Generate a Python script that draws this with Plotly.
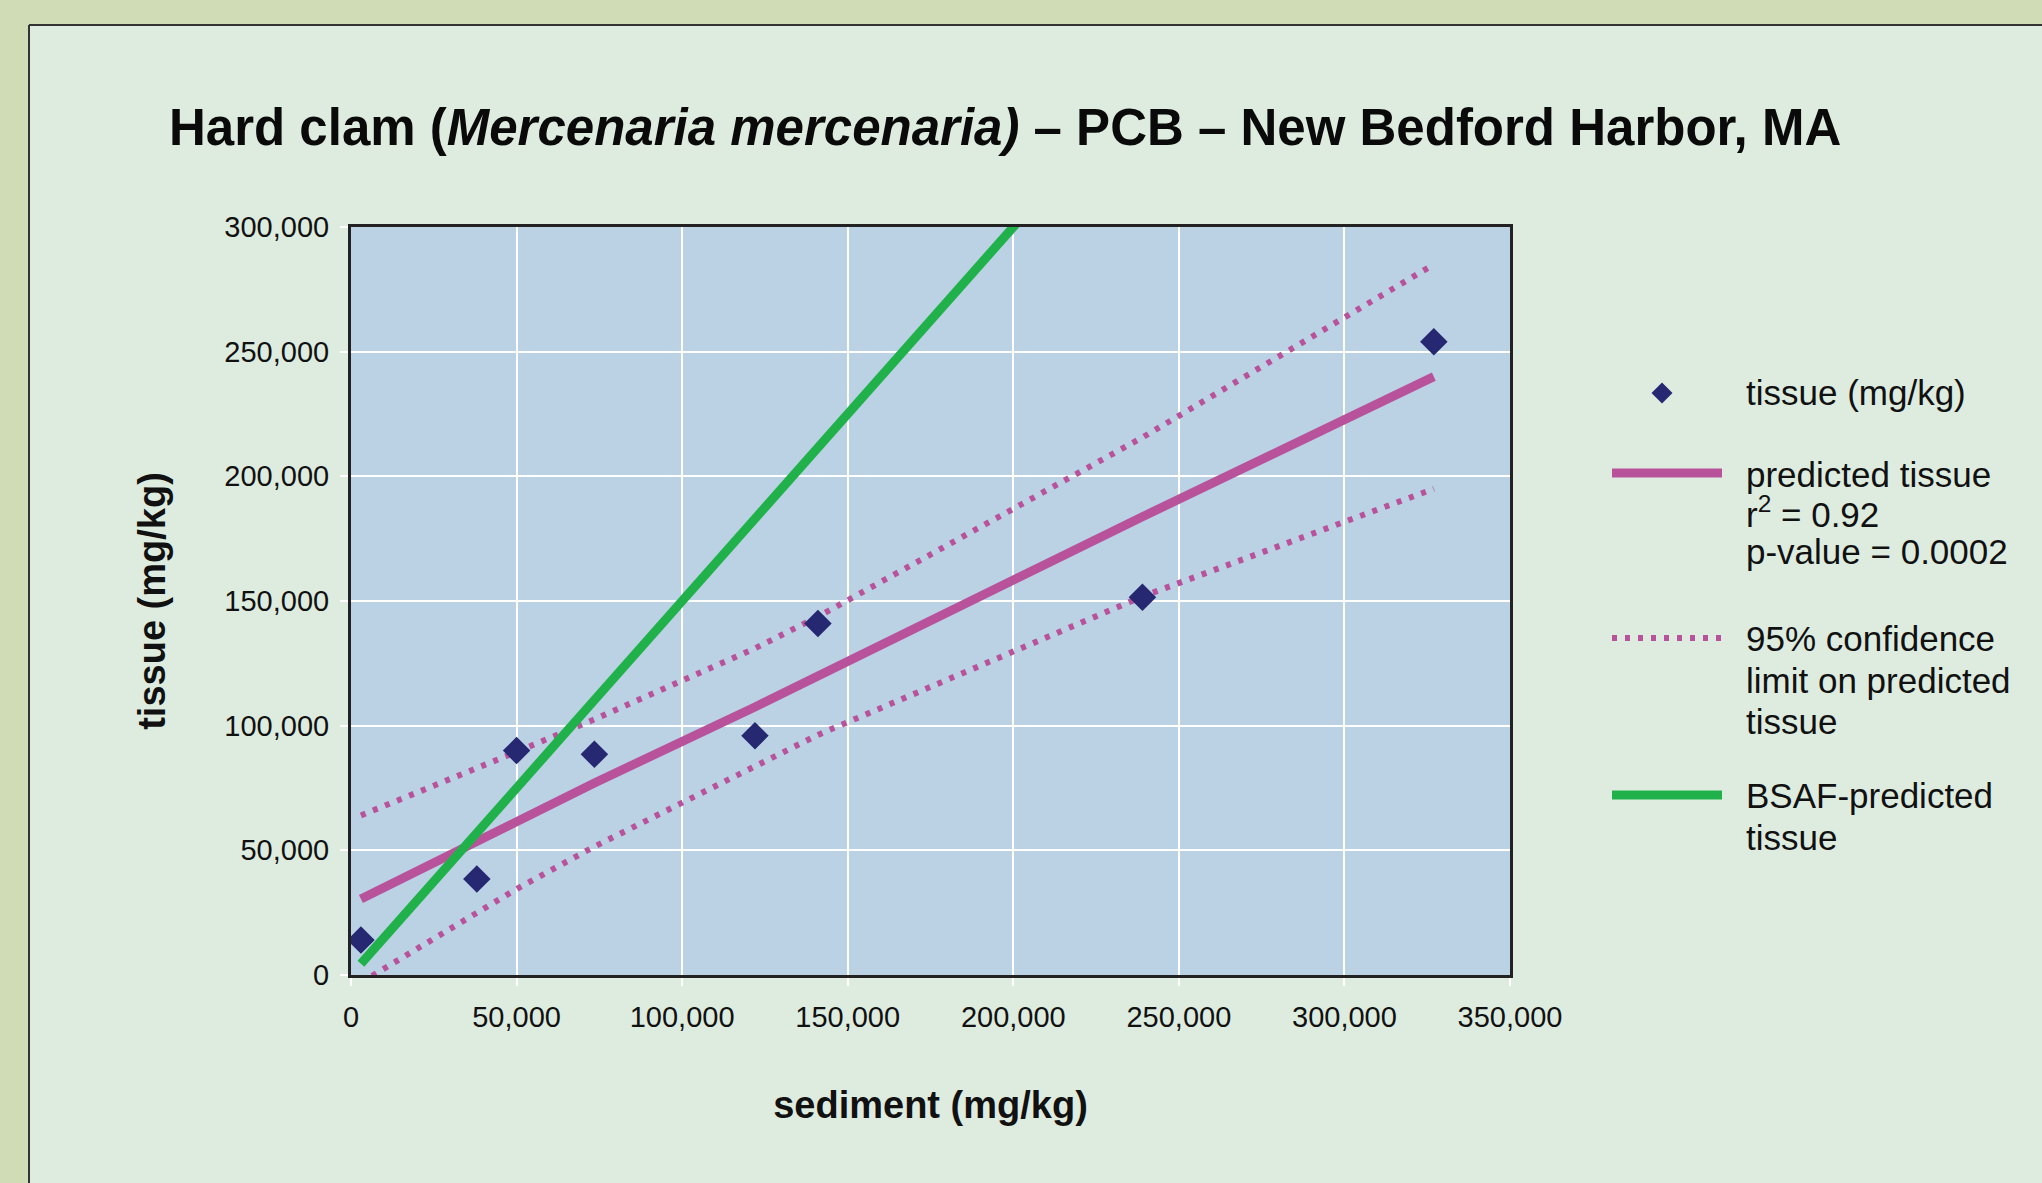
import plotly.graph_objects as go

# ---------------- data ----------------
sediment = [3000, 38000, 50000, 73500, 122000, 141000, 239000, 327000]
tissue = [14000, 38500, 90000, 88500, 96000, 141000, 151500, 254000]
predicted = [30500, 54000, 62000, 77000, 107500, 120000, 183800, 240000]
upper_ci = [64000, 82700, 89500, 102500, 131000, 143700, 215600, 285000]
lower_ci = [-3000, 25300, 34500, 51500, 84000, 96300, 151800, 195000]
bsaf_pred = [4500, 57000, 75000, 110250, 183000, 211500, 358500, 490500]

x_ticks = [0, 50000, 100000, 150000, 200000, 250000, 300000, 350000]
y_ticks = [0, 50000, 100000, 150000, 200000, 250000, 300000]

legend_lines = [
    ("tissue (mg/kg)", 392),
    ("predicted tissue", 474),
    ("r<sup>2</sup> = 0.92", 512),
    ("p-value = 0.0002", 551),
    ("95% confidence", 638),
    ("limit on predicted", 680),
    ("tissue", 721),
    ("BSAF-predicted", 795),
    ("tissue", 837),
]

# ---------------- style ----------------
W, H = 2042, 1183
L, R, T, B = 351, 1510, 227, 975  # plot area in pixels
OUTER = "#cfdcb5"
PANEL = "#deece0"
PLOTBG = "#bbd2e5"
NAVY = "#262872"
PURPLE = "#b8539b"
GREEN = "#21b14b"
FONT = "Liberation Sans, Arial, Helvetica, sans-serif"
DOT = "5px,8px"


def fx(px):
    return (px - L) / (R - L)


def fy(py):
    return (B - py) / (B - T)


fig = go.Figure()

fig.add_trace(go.Scatter(x=sediment, y=upper_ci, mode="lines",
                         line=dict(color=PURPLE, width=6, dash=DOT),
                         name="95% confidence limit (upper)", showlegend=False))
fig.add_trace(go.Scatter(x=sediment, y=lower_ci, mode="lines",
                         line=dict(color=PURPLE, width=6, dash=DOT),
                         name="95% confidence limit (lower)", showlegend=False))
fig.add_trace(go.Scatter(x=sediment, y=predicted, mode="lines",
                         line=dict(color=PURPLE, width=9),
                         name="predicted tissue", showlegend=False))
fig.add_trace(go.Scatter(x=sediment, y=bsaf_pred, mode="lines",
                         line=dict(color=GREEN, width=9),
                         name="BSAF-predicted tissue", showlegend=False))
fig.add_trace(go.Scatter(x=sediment, y=tissue, mode="markers",
                         marker=dict(symbol="diamond", size=19, color=NAVY,
                                     line=dict(width=2, color=NAVY)),
                         name="tissue (mg/kg)", showlegend=False))

shapes = []
# outer olive frame strips and panel border
shapes.append(dict(type="rect", xref="paper", yref="paper", x0=fx(-5), x1=fx(29), y0=fy(H + 5), y1=fy(-5),
                   fillcolor=OUTER, line=dict(width=0), layer="above"))
shapes.append(dict(type="rect", xref="paper", yref="paper", x0=fx(-5), x1=fx(W + 5), y0=fy(25), y1=fy(-5),
                   fillcolor=OUTER, line=dict(width=0), layer="above"))
shapes.append(dict(type="line", xref="paper", yref="paper", x0=fx(29), x1=fx(29), y0=fy(25), y1=fy(H + 5),
                   line=dict(color="#333333", width=2)))
shapes.append(dict(type="line", xref="paper", yref="paper", x0=fx(29), x1=fx(W + 5), y0=fy(25), y1=fy(25),
                   line=dict(color="#333333", width=2)))

# legend symbols
cx, cy, hd = 1662, 393, 10.5
shapes.append(dict(type="path", xref="paper", yref="paper",
                   path=f"M {fx(cx - hd)},{fy(cy)} L {fx(cx)},{fy(cy - hd)} L {fx(cx + hd)},{fy(cy)} L {fx(cx)},{fy(cy + hd)} Z",
                   fillcolor=NAVY, line=dict(width=0)))
shapes.append(dict(type="line", xref="paper", yref="paper", x0=fx(1612), x1=fx(1722), y0=fy(473), y1=fy(473),
                   line=dict(color=PURPLE, width=9)))
shapes.append(dict(type="line", xref="paper", yref="paper", x0=fx(1612), x1=fx(1725), y0=fy(638), y1=fy(638),
                   line=dict(color=PURPLE, width=6, dash=DOT)))
shapes.append(dict(type="line", xref="paper", yref="paper", x0=fx(1612), x1=fx(1722), y0=fy(795), y1=fy(795),
                   line=dict(color=GREEN, width=9)))

annotations = []
for text, ypx in legend_lines:
    annotations.append(dict(text=text, xref="paper", yref="paper", x=fx(1744), y=fy(ypx),
                            xanchor="left", yanchor="middle", showarrow=False,
                            font=dict(family=FONT, size=35, color="#111111")))

fig.update_layout(
    width=W, height=H,
    margin=dict(l=L, r=W - R, t=T, b=H - B, pad=0),
    paper_bgcolor=PANEL,
    plot_bgcolor=PLOTBG,
    showlegend=False,
    title=dict(text="Hard clam (<i>Mercenaria mercenaria)</i> – PCB – New Bedford Harbor, MA",
               xref="container", yref="container", x=169 / W, y=1 - 127 / H,
               xanchor="left", yanchor="middle",
               font=dict(family=FONT, size=51, color="#0a0a0a", weight="bold")),
    shapes=shapes,
    annotations=annotations,
    font=dict(family=FONT, color="#111111"),
)

fig.update_xaxes(
    range=[0, 350000], tickvals=x_ticks, tickformat=",",
    showgrid=True, gridcolor="white", gridwidth=2,
    showline=True, linecolor="#222222", linewidth=3, mirror=True,
    ticks="outside", ticklen=8, tickcolor="white", tickwidth=2,
    ticklabelstandoff=6,
    tickfont=dict(family=FONT, size=29, color="#111111"),
    zeroline=False,
    title=dict(text="sediment (mg/kg)", standoff=60,
               font=dict(family=FONT, size=38, color="#111111", weight="bold")),
)
fig.update_yaxes(
    range=[0, 300000], tickvals=y_ticks, tickformat=",",
    showgrid=True, gridcolor="white", gridwidth=2,
    showline=True, linecolor="#222222", linewidth=3, mirror=True,
    ticks="outside", ticklen=8, tickcolor="white", tickwidth=2,
    ticklabelstandoff=5,
    tickfont=dict(family=FONT, size=29, color="#111111"),
    zeroline=False,
    title=dict(text="tissue (mg/kg)", standoff=48,
               font=dict(family=FONT, size=38, color="#111111", weight="bold")),
)

fig.write_html("out.html", config={"displayModeBar": False},
               post_script="document.body.style.margin='0';document.body.style.overflow='hidden';")
